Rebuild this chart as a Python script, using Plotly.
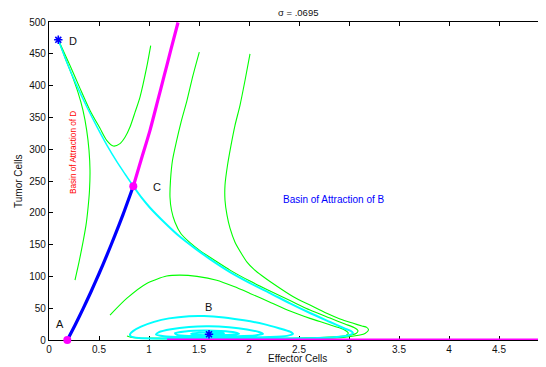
import plotly.graph_objects as go

# ---------------- data ----------------
# equilibrium points
pt_A = (0.183, 0.0)
pt_C = (0.843, 241.8)
pt_D = (0.093, 472.0)
pt_B = (1.60, 9.0)

# stable manifold of C (upper, magenta)
mag_up_x = [0.843, 0.92, 1.01, 1.088, 1.15, 1.217, 1.29]
mag_up_y = [241.8, 282.6, 329.7, 376.8, 414.4, 455.3, 499.2]
# magenta along the axis
mag_bot_x = [1.18, 5.0]
mag_bot_y = [0.0, 0.0]

# unstable manifold C -> A (blue)
blue_x = [0.183, 0.26, 0.34, 0.42, 0.50, 0.58, 0.66, 0.74, 0.843]
blue_y = [0.0, 23.3, 48.9, 75.9, 104.2, 133.8, 164.8, 197.2, 241.8]

# unstable manifold C -> D (cyan)
cyan_up_x = [0.093, 0.18, 0.277, 0.38, 0.48, 0.58, 0.68, 0.76, 0.843]
cyan_up_y = [472.0, 436.0, 400.3, 366.0, 335.0, 306.0, 280.0, 261.0, 241.8]

# unstable manifold C -> B (cyan, spiralling into B)
cyan_lo_x = [0.843, 0.93, 1.01, 1.16, 1.31, 1.46, 1.61, 1.81, 2.01, 2.21, 2.41, 2.61, 2.81,
             2.95, 3.02, 3.04, 3.0, 2.85, 2.5, 2.0, 1.5, 1.1, 0.9, 0.82, 0.81, 0.84, 0.92,
             1.05, 1.2, 1.4, 1.55, 1.75, 1.95, 2.15, 2.3, 2.41, 2.44, 2.38, 2.2, 1.9, 1.6,
             1.35, 1.15, 1.07, 1.1, 1.22, 1.4, 1.6, 1.8, 1.98, 2.1, 2.14, 2.06, 1.88, 1.65,
             1.42, 1.28, 1.26, 1.36, 1.55, 1.72, 1.86, 1.9, 1.82, 1.65, 1.48, 1.42, 1.5,
             1.65, 1.75, 1.72, 1.6]
cyan_lo_y = [241.8, 223.0, 208.0, 184.0, 162.2, 144.0, 127.2, 106.8, 89.5, 73.8, 57.6, 42.4, 28.3,
             18.5, 14.0, 11.0, 7.5, 4.5, 2.8, 2.0, 1.8, 2.2, 3.2, 5.5, 9.0, 14.0, 21.0,
             28.5, 34.0, 37.5, 37.8, 35.5, 31.0, 25.0, 18.5, 13.0, 9.5, 6.5, 4.8, 4.0, 3.9,
             4.3, 5.8, 8.5, 12.5, 17.0, 20.5, 21.5, 20.0, 16.5, 12.5, 9.5, 7.2, 6.0, 5.6,
             6.2, 8.0, 10.8, 13.5, 15.0, 14.3, 12.0, 9.8, 8.2, 7.5, 8.2, 9.8, 11.5,
             11.8, 10.5, 9.2, 8.9]

# green trajectories
g1_x = [0.093, 0.16, 0.23, 0.29, 0.34, 0.377, 0.40, 0.41, 0.405, 0.39, 0.37, 0.34, 0.30, 0.26]
g1_y = [472.0, 444.3, 416.0, 389.3, 361.0, 329.7, 298.3, 266.9, 235.5, 207.2, 180.5, 153.8, 122.4, 94.2]

g2_x = [0.093, 0.21, 0.31, 0.41, 0.51, 0.577, 0.643, 0.71, 0.76, 0.81, 0.86, 0.91, 0.977, 1.017]
g2_y = [472.0, 431.7, 395.6, 361.0, 332.8, 314.0, 305.0, 308.8, 318.7, 334.9, 357.9, 382.0, 429.0, 463.0]

g3_x = [1.503, 1.44, 1.38, 1.32, 1.277, 1.235, 1.215, 1.21, 1.225, 1.26, 1.32, 1.41, 1.51, 1.66,
        1.81, 2.01, 2.21, 2.41, 2.61, 2.81, 2.96, 3.05, 3.09, 3.07, 2.96, 2.71, 2.3, 1.8, 1.4, 1.2]
g3_y = [452.6, 416.0, 376.8, 342.2, 314.0, 282.6, 251.2, 224.5, 204.0, 185.2, 167.0, 153.0, 140.5, 125.0,
        109.9, 92.6, 76.9, 62.0, 47.1, 34.5, 25.1, 19.6, 14.5, 10.2, 6.3, 3.9, 2.5, 2.0, 2.2, 3.0]

g4_x = [2.01, 1.96, 1.91, 1.86, 1.82, 1.785, 1.76, 1.76, 1.78, 1.81, 1.86, 1.93, 1.98, 2.05, 2.13,
        2.21, 2.443, 2.61, 2.777, 2.91, 3.043, 3.13, 3.177, 3.195, 3.16, 3.11, 2.943, 2.51, 2.01,
        1.51, 1.01, 0.83, 0.78]
g4_y = [450.0, 408.0, 369.0, 337.5, 306.0, 274.7, 243.3, 219.8, 196.2, 175.8, 153.8, 134.5, 122.5, 111.0, 101.0,
        92.0, 68.0, 54.9, 41.9, 33.0, 26.2, 22.0, 19.9, 15.7, 10.2, 7.8, 4.2, 2.4, 1.6,
        1.6, 2.4, 3.9, 6.3]

g5_x = [0.61, 0.777, 0.977, 1.177, 1.31, 1.48, 1.677, 1.85, 2.01, 2.21, 2.41, 2.61, 2.777, 2.943,
        2.993, 2.943, 2.7, 2.2, 1.7, 1.3, 1.0]
g5_y = [39.2, 65.4, 89.0, 100.5, 102.0, 100.0, 94.0, 84.0, 73.3, 59.5, 45.5, 34.0, 25.5, 16.8,
        10.5, 5.2, 3.2, 2.2, 2.0, 2.4, 3.2]

x_ticks = [0, 0.5, 1, 1.5, 2, 2.5, 3, 3.5, 4, 4.5, 5]
y_ticks = [0, 50, 100, 150, 200, 250, 300, 350, 400, 450, 500]

# ---------------- figure ----------------
FONT = "Liberation Sans, Arial, sans-serif"
GREEN = "#00ff00"
CYAN = "#00ffff"
MAG = "#ff00ff"
BLUE = "#0000ff"

fig = go.Figure()


def line(x, y, color, width, shape="spline"):
    fig.add_trace(go.Scatter(x=x, y=y, mode="lines",
                             line=dict(color=color, width=width, shape=shape, smoothing=0.7),
                             hoverinfo="skip", showlegend=False))


for gx, gy in [(g1_x, g1_y), (g2_x, g2_y), (g3_x, g3_y), (g4_x, g4_y), (g5_x, g5_y)]:
    line(gx, gy, GREEN, 1.1)
line(cyan_up_x, cyan_up_y, CYAN, 1.5)
line(cyan_lo_x, cyan_lo_y, CYAN, 2.0)
line(blue_x, blue_y, BLUE, 3.2)
line(mag_up_x, mag_up_y, MAG, 3.2)
line(mag_bot_x, mag_bot_y, MAG, 3.0, shape="linear")

# markers
fig.add_trace(go.Scatter(x=[pt_A[0], pt_C[0]], y=[pt_A[1], pt_C[1]], mode="markers",
                         marker=dict(symbol="circle", size=8, color=MAG),
                         cliponaxis=False, hoverinfo="skip", showlegend=False))
fig.add_trace(go.Scatter(x=[pt_D[0], pt_B[0]], y=[pt_D[1], pt_B[1]], mode="markers",
                         marker=dict(symbol="asterisk-open", size=7, color=BLUE,
                                     line=dict(color=BLUE, width=1.6)),
                         cliponaxis=False, hoverinfo="skip", showlegend=False))

annots = [
    dict(x=0.24, y=469.4, text="D", font=dict(size=11, color="#111")),
    dict(x=1.08, y=240.0, text="C", font=dict(size=11, color="#111")),
    dict(x=0.11, y=25.0, text="A", font=dict(size=11, color="#111")),
    dict(x=1.59, y=51.8, text="B", font=dict(size=11, color="#111")),
    dict(x=2.84, y=221.0, text="Basin of Attraction of B", font=dict(size=10, color=BLUE)),
    dict(x=0.24, y=294.0, text="Basin of Attraction of D", textangle=-90,
         font=dict(size=8.2, color="#ff0000")),
]
for a in annots:
    a.update(xref="x", yref="y", showarrow=False, xanchor="center", yanchor="middle")
    a["font"]["family"] = FONT

annots += [
    dict(xref="paper", yref="paper", x=0.501, y=1, yshift=10, text="σ = .0695", showarrow=False,
         xanchor="center", yanchor="middle", font=dict(size=9.5, color="#111", family=FONT)),
    dict(xref="paper", yref="paper", x=0.501, y=0, yshift=-18, text="Effector Cells", showarrow=False,
         xanchor="center", yanchor="middle", font=dict(size=10, color="#111", family=FONT)),
    dict(xref="paper", yref="paper", x=0, xshift=-31, y=0.5, text="Tumor Cells", showarrow=False,
         textangle=-90, xanchor="center", yanchor="middle",
         font=dict(size=10, color="#111", family=FONT)),
    dict(xref="paper", yref="paper", x=5 / 4.97, y=0, yshift=-8, text="5", showarrow=False,
         xanchor="center", yanchor="middle", font=dict(size=10, color="#111", family=FONT)),
]

# the page body adds an 8px margin, so the figure is 8px smaller and margins compensate
fig.update_layout(
    width=538, height=359,
    margin=dict(l=41, r=0, t=14, b=27, pad=0),
    paper_bgcolor="white", plot_bgcolor="white",
    annotations=annots,
    font=dict(family=FONT, size=10, color="#111"),
)
fig.update_xaxes(range=[0, 4.97], tickvals=x_ticks, ticktext=[("%g" % v) for v in x_ticks],
                 ticks="inside", ticklen=4, tickcolor="black", tickwidth=1,
                 showline=True, linecolor="black", linewidth=1, mirror="ticks",
                 showgrid=False, zeroline=False, layer="below traces", automargin=False,
                 tickfont=dict(size=10, color="#111", family=FONT))
fig.update_yaxes(range=[0, 500], tickvals=y_ticks, ticks="inside", ticklen=4, tickcolor="black",
                 tickwidth=1, showline=True, linecolor="black", linewidth=1.3, mirror="ticks",
                 showgrid=False, zeroline=False, layer="below traces", automargin=False,
                 tickfont=dict(size=10, color="#111", family=FONT))

fig.write_html("out.html", config={"displayModeBar": False})
